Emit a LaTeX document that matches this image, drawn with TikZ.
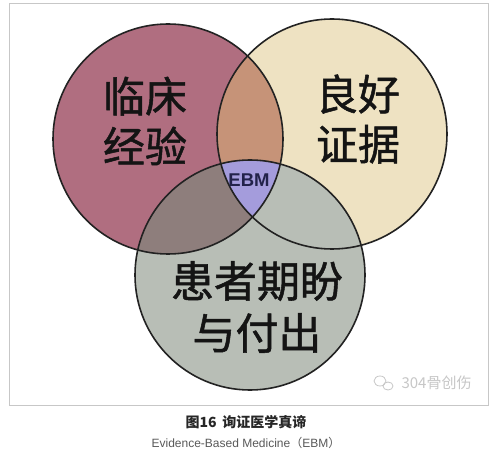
\documentclass[tikz,border=0pt]{standalone}
\usepackage{fontspec}
\usetikzlibrary{positioning}
\newfontfamily\cjk{Noto Sans CJK SC}
\newfontfamily\cjkheavy[FakeBold=1.2]{Noto Sans CJK SC}
\newfontfamily\latin{Liberation Sans}
\definecolor{clinred}{HTML}{B06E80}
\definecolor{evicream}{HTML}{EEE2C2}
\definecolor{patgray}{HTML}{B8BEB6}
\definecolor{mixrc}{HTML}{C69378}
\definecolor{mixrp}{HTML}{8E7E7C}
\definecolor{mixcp}{HTML}{AFB49F}
\definecolor{ebmviolet}{HTML}{A49CDC}
\definecolor{ebmnavy}{HTML}{22224A}
\definecolor{ringline}{HTML}{222222}

\begin{document}
\begin{tikzpicture}[x=1pt, y=-1pt,
  ring/.style={circle, draw=ringline, line width=1.6pt, minimum size=230pt, inner sep=0pt},
  bigword/.style={font=\cjkheavy\fontsize{42}{50}\selectfont, text=black!92, align=center},
  caption/.style={font=\cjk\bfseries\fontsize{14}{16}\selectfont, text=black!85}
]
\useasboundingbox (0,0) rectangle (498,449);
\fill[white] (0,0) rectangle (498,449);
\draw[black!22, line width=0.8pt] (9,3) rectangle (488,405);

\coordinate (cc) at (168,139);
\coordinate (ce) at (332,134);
\coordinate (cp) at (250,275);

% circle fills and overlaps
\fill[clinred] (cc) circle (115);
\fill[evicream] (ce) circle (115);
\fill[patgray] (cp) circle (115);
\begin{scope}
  \clip (cc) circle (115);
  \fill[mixrc] (ce) circle (115);
  \fill[mixrp] (cp) circle (115);
  \clip (ce) circle (115);
  \fill[ebmviolet] (cp) circle (115);
\end{scope}
\begin{scope}
  \clip (ce) circle (115);
  \clip (cp) circle (115);
  \fill[mixcp] (cc) circle (115);
  \clip (cc) circle (115);
  \fill[ebmviolet] (cp) circle (115);
\end{scope}

\node[ring] (clinic) at (cc) {};
\node[ring] (evidence) at (ce) {};
\node[ring] (patient) at (cp) {};

\node[bigword] (clintext) at (145,121) {临床\\经验};
\node[bigword] (evitext) at (358,119) {良好\\证据};
\node[bigword, font=\cjkheavy\fontsize{43}{52}\selectfont] (pattext) at (257,307) {患者期盼\\与付出};
\node[font=\latin\bfseries\fontsize{18.5}{20}\selectfont, text=ebmnavy] (ebm) at (249,180) {EBM};

% watermark
\node[font=\cjk\fontsize{15}{16}\selectfont, text=black!22, anchor=west] (mark) at (398,383) {304骨创伤};
\draw[black!22, line width=0.8pt] (380,381) ellipse (6 and 5);
\draw[black!22, line width=0.8pt] (388,386) ellipse (5 and 4);

\node[caption] (title) at (246,422) {图16\, 询证医学真谛};
\node[font=\latin\fontsize{12}{14}\selectfont, text=black!65, below=1pt of title] (subtitle) {Evidence-Based Medicine{\cjk （}EBM{\cjk ）}};
\end{tikzpicture}
\end{document}
